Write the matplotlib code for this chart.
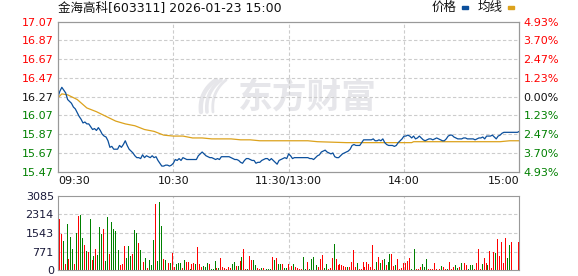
import numpy as np
import matplotlib.pyplot as plt
from matplotlib.patches import Rectangle

plt.rcParams['font.family'] = ['DejaVu Sans', 'Noto Sans CJK SC']

title = '金海高科[603311] 2026-01-23 15:00'
pre_close = 16.27
price_ticks = [15.47, 15.67, 15.87, 16.07, 16.27, 16.47, 16.67, 16.87, 17.07]
pct_labels = ['4.93%', '3.70%', '2.47%', '1.23%', '0.00%', '1.23%', '2.47%', '3.70%', '4.93%']
vol_ticks = [0, 771, 1543, 2314, 3085]
time_ticks = [0, 60, 120, 180, 240]
time_labels = ['09:30', '10:30', '11:30/13:00', '14:00', '15:00']

# price per minute, 09:30 .. 15:00
price = [
    16.27, 16.33, 16.37, 16.34, 16.31, 16.24, 16.22, 16.20, 16.16, 16.14,
    16.10, 16.06, 16.03, 15.99, 16.00, 15.98, 15.98, 15.95, 15.92, 15.93,
    15.91, 15.94, 15.91, 15.87, 15.85, 15.84, 15.80, 15.73, 15.74, 15.71,
    15.71, 15.71, 15.75, 15.73, 15.76, 15.80, 15.75, 15.71, 15.69, 15.67,
    15.64, 15.62, 15.62, 15.61, 15.65, 15.62, 15.64, 15.63, 15.62, 15.64,
    15.62, 15.63, 15.59, 15.56, 15.53, 15.53, 15.54, 15.54, 15.53, 15.54,
    15.56, 15.60, 15.59, 15.61, 15.59, 15.62, 15.61, 15.60, 15.60, 15.60,
    15.60, 15.60, 15.60, 15.64, 15.66, 15.68, 15.66, 15.64, 15.63, 15.62,
    15.62, 15.61, 15.60, 15.61, 15.60, 15.63, 15.63, 15.63, 15.63, 15.63,
    15.62, 15.61, 15.60, 15.60, 15.59, 15.57, 15.56, 15.59, 15.61, 15.61,
    15.60, 15.59, 15.59, 15.56, 15.57, 15.57, 15.59, 15.60, 15.61, 15.61,
    15.59, 15.61, 15.59, 15.57, 15.55, 15.59, 15.60, 15.61, 15.62, 15.61,
    15.66, 15.64, 15.61, 15.62, 15.62, 15.62, 15.62, 15.62, 15.62, 15.62,
    15.62, 15.61, 15.61, 15.60, 15.62, 15.64, 15.65, 15.68, 15.69, 15.70,
    15.68, 15.67, 15.66, 15.67, 15.63, 15.62, 15.62, 15.64, 15.66, 15.67,
    15.68, 15.69, 15.71, 15.75, 15.76, 15.75, 15.75, 15.75, 15.78, 15.81,
    15.81, 15.81, 15.81, 15.81, 15.82, 15.80, 15.80, 15.81, 15.80, 15.82,
    15.78, 15.76, 15.75, 15.75, 15.75, 15.74, 15.75, 15.78, 15.80, 15.82,
    15.85, 15.85, 15.86, 15.85, 15.83, 15.85, 15.82, 15.83, 15.85, 15.83,
    15.81, 15.80, 15.81, 15.82, 15.82, 15.81, 15.82, 15.83, 15.82, 15.81,
    15.80, 15.80, 15.82, 15.85, 15.86, 15.86, 15.84, 15.83, 15.82, 15.82,
    15.82, 15.83, 15.83, 15.82, 15.82, 15.82, 15.82, 15.81, 15.82, 15.83,
    15.83, 15.84, 15.82, 15.85, 15.85, 15.85, 15.86, 15.84, 15.82, 15.85,
    15.86, 15.88, 15.89, 15.89, 15.89, 15.89, 15.89, 15.89, 15.89, 15.89,
    15.90,
]

# average price line (minute, value)
avg_t = [0, 2, 5, 10, 15, 20, 25, 30, 35, 40, 45, 50, 55, 60, 65, 70, 75, 80,
         85, 90, 95, 100, 105, 110, 115, 120, 130, 135, 150, 184, 185, 230, 235, 240]
avg_p = [16.26, 16.30, 16.29, 16.24, 16.15, 16.11, 16.06, 16.01, 15.98, 15.96,
         15.92, 15.90, 15.86, 15.85, 15.85, 15.83, 15.83, 15.82, 15.82, 15.82,
         15.81, 15.81, 15.80, 15.80, 15.80, 15.80, 15.80, 15.79, 15.78, 15.78,
         15.79, 15.79, 15.80, 15.80]

volume = [
    # 09:31 - 10:30
    2130, 1500, 1210, 250, 1920, 460, 1380, 880, 250, 1540,
    2250, 2290, 1330, 1040, 790, 750, 2130, 420, 580, 880,
    620, 1790, 1500, 1710, 380, 2210, 670, 2000, 1710, 1630,
    710, 830, 210, 250, 1000, 500, 1000, 580, 670, 1670,
    1540, 1130, 830, 1080, 330, 500, 80, 420, 210, 1250,
    2750, 380, 2830, 1830, 460, 420, 540, 290, 290, 710,
    # 10:31 - 11:30
    125, 250, 290, 290, 83, 420, 330, 330, 42, 250,
    290, 250, 960, 250, 125, 170, 125, 290, 250, 42,
    42, 375, 83, 83, 500, 125, 83, 42, 125, 83,
    250, 330, 170, 170, 375, 540, 880, 42, 42, 580,
    420, 420, 210, 83, 42, 83, 83, 83, 42, 42,
    42, 540, 420, 500, 250, 250, 250, 83, 83, 250,
    # 13:01 - 14:00
    250, 170, 250, 125, 83, 42, 42, 540, 42, 330,
    42, 460, 540, 790, 210, 125, 460, 630, 83, 250,
    42, 83, 500, 1080, 460, 210, 250, 210, 170, 125,
    125, 125, 330, 830, 125, 290, 42, 42, 330, 125,
    330, 250, 125, 1040, 42, 330, 540, 290, 420, 460,
    210, 330, 670, 670, 170, 210, 460, 42, 83, 290,
    # 14:01 - 15:00
    290, 375, 500, 42, 290, 880, 42, 42, 125, 250,
    125, 460, 42, 42, 42, 290, 42, 42, 42, 170,
    125, 42, 42, 330, 42, 125, 210, 83, 125, 290,
    83, 290, 210, 42, 210, 210, 42, 290, 880, 42,
    250, 500, 290, 210, 790, 83, 750, 710, 1290, 580,
    1170, 290, 1330, 500, 1040, 1170, 0, 0, 0, 1170,
]
# r = up (red), g = down (green)
volume_dir = (
    'rrgrgrggrg' 'rggrgrgrgr' 'gggrggrggg' 'rgrrrgggrg' 'grgrrgrggg' 'rgggrgrrgr'
    'rgggrgrrgr' 'rgrrrgggrg' 'ggrgrrrrrr' 'ggrgrgrrgr' 'rggrrgrrgg' 'grgrggrggr'
    'rrgrrrrggr' 'gggrgrrrgg' 'rrrgrrrrrr' 'grrrrgrrrr' 'rrrrrgrgrg' 'rggrrgrrrr'
    'rrrgrgrrrg' 'ggrrrrrgrg' 'rrgrrrggrg' 'rrrgggrrrr' 'grrgrrrgrr' 'rrrggrrrrr'
)

W, H = 578, 276
fig = plt.figure(figsize=(W / 100, H / 100), dpi=100)
left, right = 58, 519.3
ax = fig.add_axes([left / W, 1 - 171.7 / H, (right - left) / W, 150 / H])
axv = fig.add_axes([left / W, 1 - 270 / H, (right - left) / W, 74 / H])

grid_kw = dict(color='#cccccc', lw=0.8, ls=(0, (3, 2)), zorder=0.6)
frame_c = '#999999'
wm_c = '#e6e6ea'

# ---- price panel
ax.set_xlim(0, 240)
ax.set_ylim(price_ticks[0], price_ticks[-1])
for y in price_ticks[1:-1]:
    ax.axhline(y, **grid_kw)
for x in time_ticks[1:-1]:
    ax.axvline(x, **grid_kw)

# watermark: logo strokes + brand text
tt = np.linspace(0, 1, 30)
for k in range(3):
    x0, y0 = 201 + k * 6, 112
    cx, cy = 199 + k * 6, 92
    x1, y1 = 216 + k * 5, 80
    bx = (1 - tt) ** 2 * x0 + 2 * (1 - tt) * tt * cx + tt ** 2 * x1
    by = (1 - tt) ** 2 * y0 + 2 * (1 - tt) * tt * cy + tt ** 2 * y1
    ax.plot(bx / W, 1 - by / H, transform=fig.transFigure, color=wm_c,
            lw=3.2 - k * 0.6, solid_capstyle='round', zorder=0.5)
ax.text(238 / W, 1 - 97 / H, '东方财富', transform=fig.transFigure, fontsize=25,
        fontweight='bold', color=wm_c, family='Noto Sans CJK SC',
        va='center', ha='left', zorder=0.5)

ax.plot(np.arange(len(price)), price, color='#0b4f9c', lw=0.9, zorder=3)
ax.plot(avg_t, avg_p, color='#dca21c', lw=0.9, zorder=2)

ax.set_yticks(price_ticks)
ax.set_yticklabels(['%.2f' % p for p in price_ticks])
ax.set_xticks(time_ticks)
ax.set_xticklabels(time_labels)
xl = ax.get_xticklabels()
xl[0].set_horizontalalignment('left')
xl[-1].set_horizontalalignment('right')
ax.tick_params(length=0, labelsize=8, pad=3, colors='#111111')
for lab, p in zip(ax.get_yticklabels(), price_ticks):
    lab.set_color('#ff0000' if p > pre_close else ('#008000' if p < pre_close else '#111111'))

ax2 = ax.twinx()
ax2.set_ylim(ax.get_ylim())
ax2.set_yticks(price_ticks)
ax2.set_yticklabels(pct_labels)
ax2.tick_params(length=0, labelsize=8, pad=3)
for lab, p in zip(ax2.get_yticklabels(), price_ticks):
    lab.set_color('#ff0000' if p > pre_close else ('#008000' if p < pre_close else '#111111'))

for a in (ax, ax2, axv):
    for s in a.spines.values():
        s.set_color(frame_c)
        s.set_linewidth(0.8)

# ---- volume panel
axv.set_xlim(0, 240)
axv.set_ylim(0, vol_ticks[-1])
for y in vol_ticks[1:-1]:
    axv.axhline(y, **grid_kw)
for x in time_ticks[1:-1]:
    axv.axvline(x, **grid_kw)
bar_c = ['#ff0000' if d == 'r' else '#008000' for d in volume_dir]
axv.bar(np.arange(1, len(volume) + 1) - 0.3, volume, width=0.5, color=bar_c,
        linewidth=0, antialiased=False, zorder=2)
axv.set_yticks(vol_ticks)
axv.set_yticklabels([str(v) for v in vol_ticks])
axv.set_xticks([])
axv.tick_params(length=0, labelsize=8, pad=3, colors='#1a1a3a')

# ---- header
fig.text(left / W, 1 - 8 / H, title, fontsize=9, va='center', ha='left', color='#111111')
fig.text(432 / W, 1 - 7.5 / H, '价格', fontsize=9, va='center', ha='left', color='#111111')
fig.text(478 / W, 1 - 7.5 / H, '均线', fontsize=9, va='center', ha='left', color='#111111')
fig.patches.append(Rectangle((462 / W, 1 - 8.5 / H), 6 / W, 2.5 / H,
                             transform=fig.transFigure, color='#0b4f9c', figure=fig))
fig.patches.append(Rectangle((508 / W, 1 - 8.5 / H), 6 / W, 2.5 / H,
                             transform=fig.transFigure, color='#dca21c', figure=fig))

fig.savefig('out.png', dpi=100)
